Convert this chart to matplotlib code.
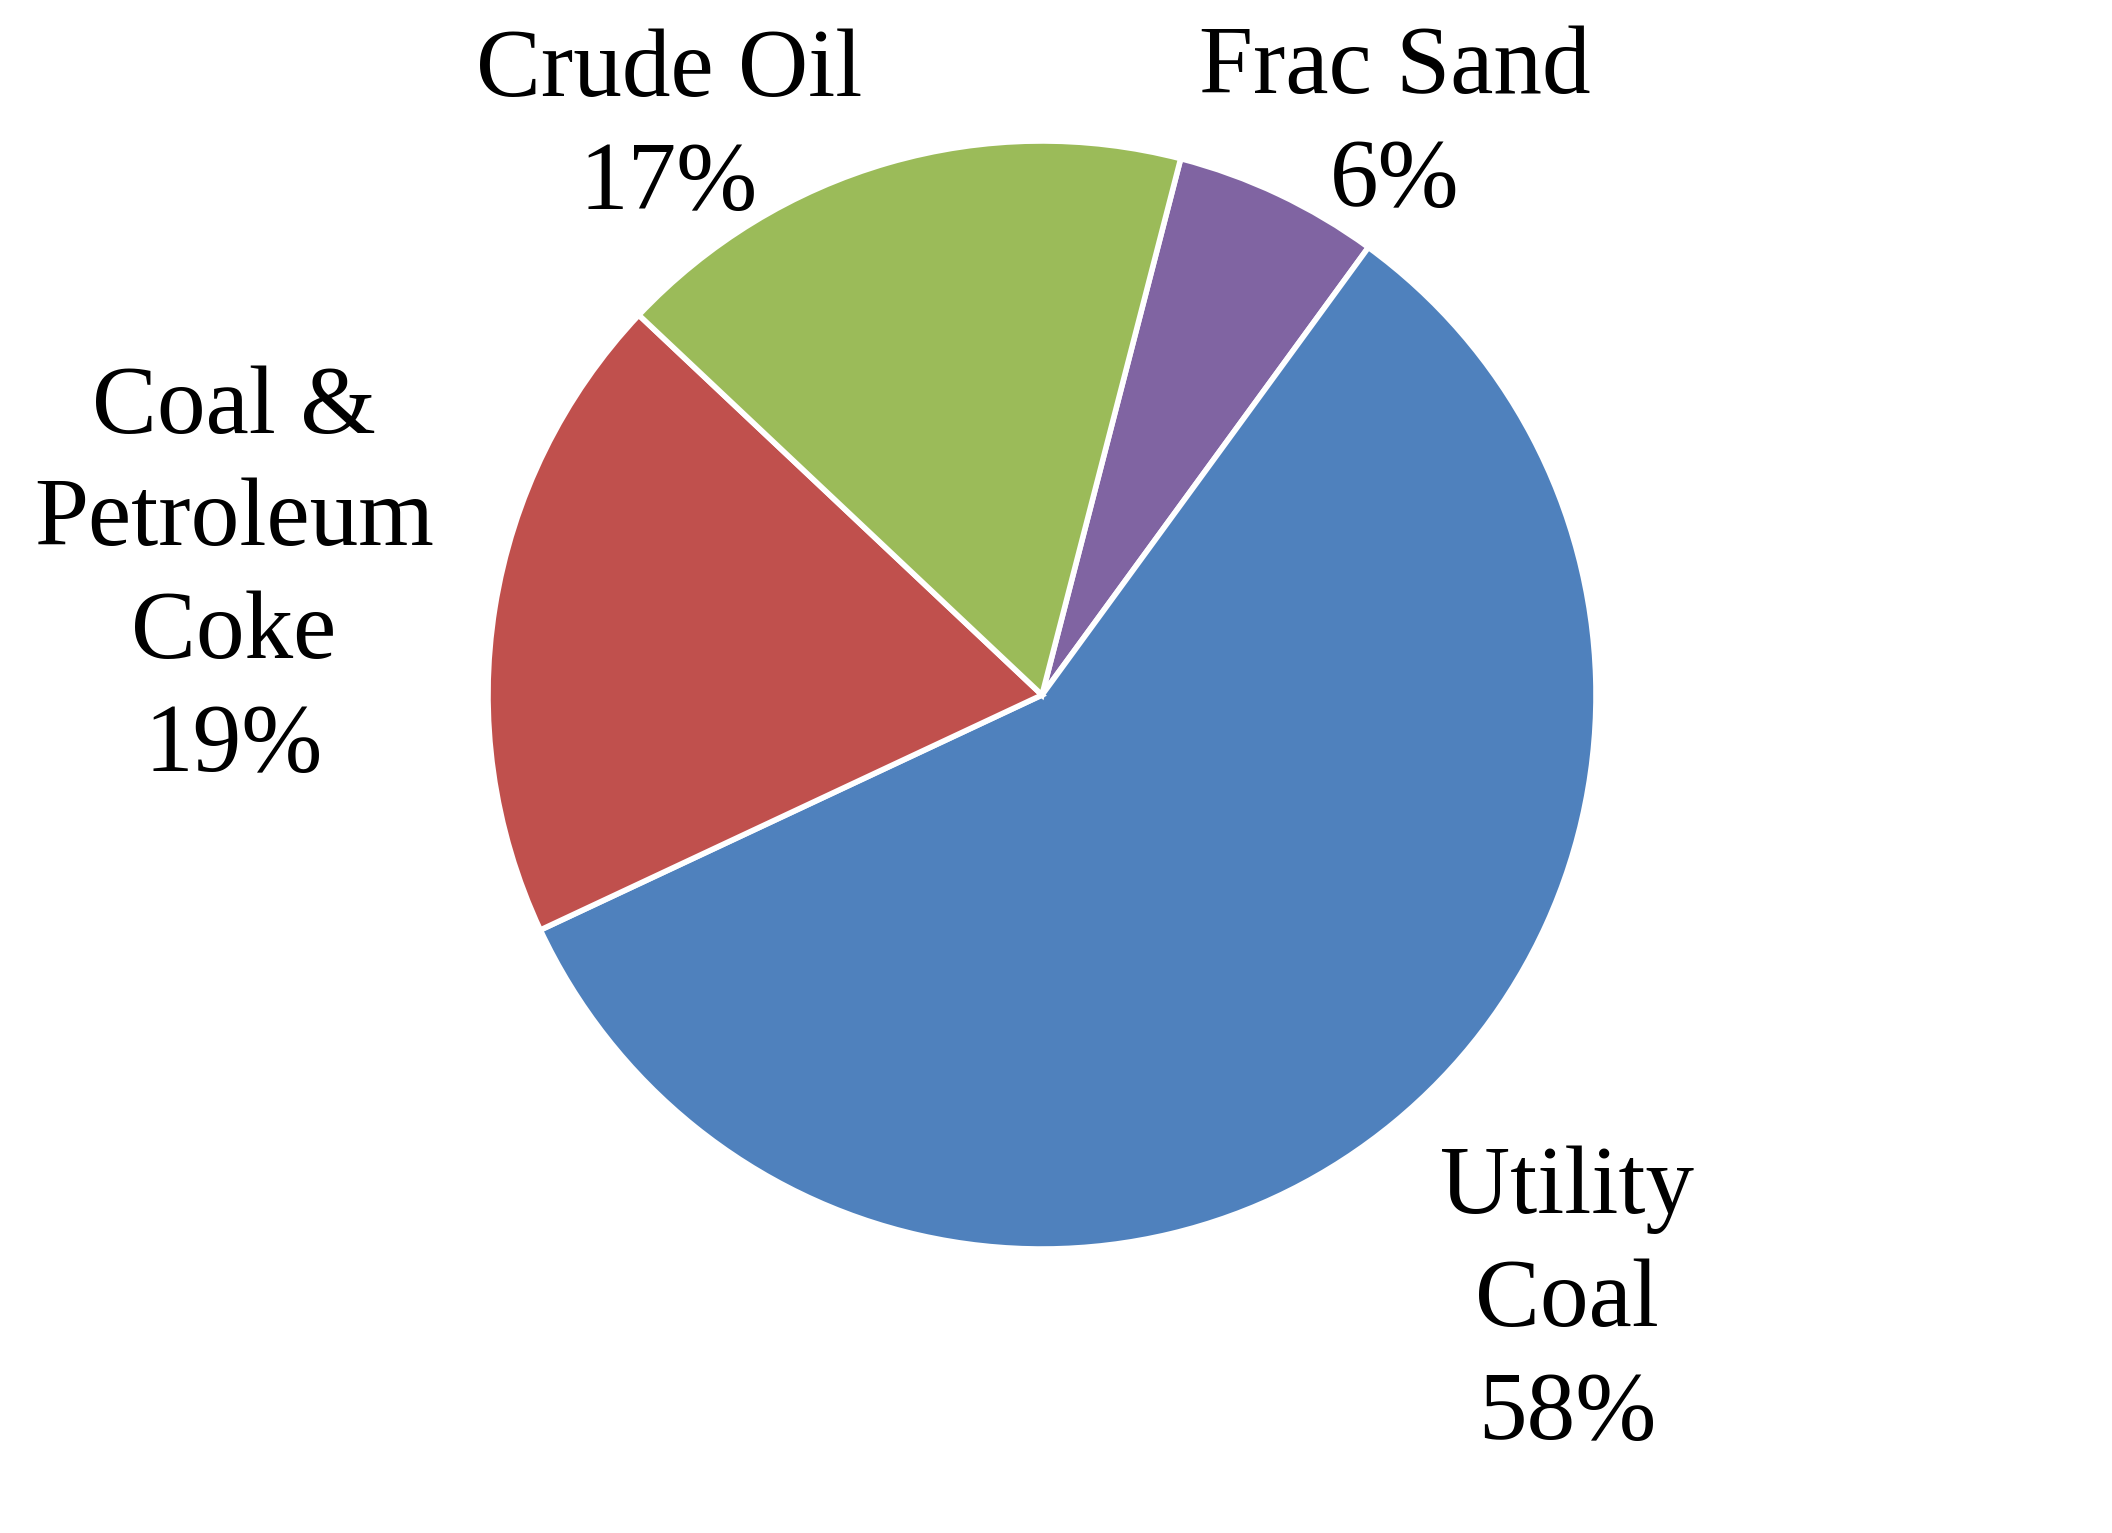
import matplotlib
matplotlib.use("Agg")
import matplotlib.pyplot as plt

categories = ["Frac Sand", "Utility\nCoal", "Coal &\nPetroleum\nCoke", "Crude Oil"]
values = [6, 58, 19, 17]
colors = ["#8064A2", "#4F81BD", "#C0504D", "#9BBB59"]

W, H = 2112, 1533
fig = plt.figure(figsize=(W / 100, H / 100), dpi=100)
ax = fig.add_axes([0, 0, 1, 1])

ax.pie(values, colors=colors, startangle=75.5, counterclock=False,
       center=(1042, H - 695), radius=554, frame=True,
       wedgeprops=dict(edgecolor="white", linewidth=4))
ax.set_xlim(0, W)
ax.set_ylim(0, H)
ax.set_aspect("equal")
ax.axis("off")

# label anchor: (x centre, last-line baseline in pixels from top)
label_pos = {
    "Frac Sand": (1395, 206),
    "Utility\nCoal": (1567, 1439),
    "Coal &\nPetroleum\nCoke": (234, 771),
    "Crude Oil": (669, 209),
}
for cat, val in zip(categories, values):
    x, y = label_pos[cat]
    ax.text(x, H - y, f"{cat}\n{val}%", ha="center", va="baseline",
            fontsize=70, family="Liberation Serif", linespacing=1.36,
            color="black")

fig.savefig("out.png", dpi=100, facecolor="white")
